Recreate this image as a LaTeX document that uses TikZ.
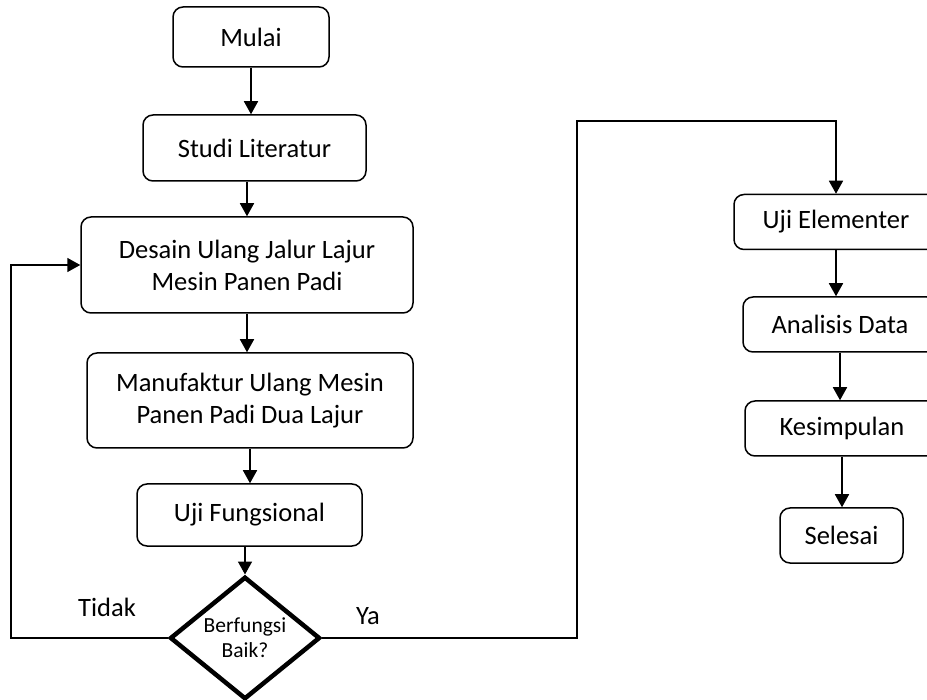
\documentclass[tikz,border=0pt]{standalone}
\usepackage{fontspec}
\setmainfont{Carlito}
\usetikzlibrary{shapes.geometric,arrows.meta}

\begin{document}
\begin{tikzpicture}[x=1pt,y=-1pt,every node/.style={font=\fontsize{26.5}{32}\selectfont},
  box/.style={draw,line width=1.5pt,rounded corners=10pt,align=center,inner sep=0pt},
  tanya/.style={draw,diamond,line width=4.5pt,align=center,inner sep=0pt,minimum width=150pt,minimum height=118pt,font=\fontsize{21.5}{25}\selectfont},
  arr/.style={line width=1.6pt,-{Triangle[length=13pt,width=14pt]}}]
\useasboundingbox (0,0) rectangle (927,700);
\clip (0,0) rectangle (927,700);
\node[box,minimum width=156pt,minimum height=60pt] (mulai) at (251,37) {Mulai};
\node[box,minimum width=223pt,minimum height=66pt] (studi) at (254.5,148) {Studi Literatur};
\node[box,minimum width=332pt,minimum height=96pt] (desain) at (247,265) {Desain Ulang Jalur Lajur\\Mesin Panen Padi};
\node[box,minimum width=326pt,minimum height=95pt] (manuf) at (250,400.5) {Manufaktur Ulang Mesin\\Panen Padi Dua Lajur};
\node[box,minimum width=225pt,minimum height=62pt] (ujif) at (249.5,515) {Uji Fungsional};
\node[tanya] (cek) at (245,638) {Berfungsi\\Baik?};
\node[box,minimum width=204pt,minimum height=55pt] (ujiel) at (836,222) {Uji Elementer};
\node[box,minimum width=194pt,minimum height=55pt] (analisis) at (840,324.5) {Analisis Data};
\node[box,minimum width=194pt,minimum height=55pt] (kesim) at (842,428.5) {Kesimpulan};
\node[box,minimum width=123pt,minimum height=55pt] (selesai) at (841.5,535.5) {Selesai};
\node (tidak) at (107,607) {Tidak};
\node (ya) at (368,616) {Ya};
\coordinate (kiri) at (11,265);
\coordinate (atas) at (577,121);
\draw[arr] (mulai.south) -- (mulai.south |- studi.north);
\draw[arr] (studi.south -| desain.north) -- (desain.north);
\draw[arr] (desain.south) -- (desain.south |- manuf.north);
\draw[arr] (manuf.south) -- (manuf.south |- ujif.north);
\draw[arr] (ujif.south -| cek.north) -- (cek.north);
\draw[arr] (cek.west) -| (kiri) -- (desain.west);
\draw[arr] (cek.east) -| (atas) -| (ujiel.north);
\draw[arr] (ujiel.south) -- (ujiel.south |- analisis.north);
\draw[arr] (analisis.south) -- (analisis.south |- kesim.north);
\draw[arr] (kesim.south) -- (kesim.south |- selesai.north);
\end{tikzpicture}
\end{document}
